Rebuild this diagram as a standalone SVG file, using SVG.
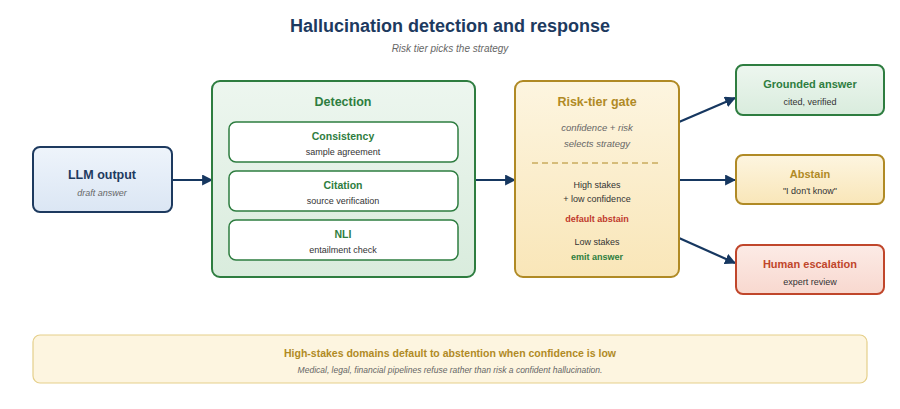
<svg xmlns="http://www.w3.org/2000/svg" width="900" height="409" viewBox="0 0 900 409">
<defs>
<linearGradient id="gb" x1="0" y1="0" x2="0" y2="1"><stop offset="0" stop-color="#eef4fb"/><stop offset="1" stop-color="#dbe6f4"/></linearGradient>
<linearGradient id="gg" x1="0" y1="0" x2="0" y2="1"><stop offset="0" stop-color="#edf6ef"/><stop offset="1" stop-color="#d9ecdd"/></linearGradient>
<linearGradient id="gy" x1="0" y1="0" x2="0" y2="1"><stop offset="0" stop-color="#fdf5e0"/><stop offset="1" stop-color="#f9e6b8"/></linearGradient>
<linearGradient id="gr" x1="0" y1="0" x2="0" y2="1"><stop offset="0" stop-color="#fcebe6"/><stop offset="1" stop-color="#f8d8cf"/></linearGradient>
<marker id="ah" viewBox="0 0 10 10" refX="9" refY="5" markerWidth="5" markerHeight="5" orient="auto"><path d="M0,0 L10,5 L0,10 z" fill="#163760"/></marker>
<style>
text{font-family:"Liberation Sans",Arial,sans-serif;text-anchor:middle}
.t{font-weight:bold;font-size:12.5px}
.s{font-size:9px;fill:#333}
.i{font-size:9px;fill:#666;font-style:italic}
.c{stroke:#163760;stroke-width:2.2;fill:none;marker-end:url(#ah)}
</style>
</defs>
<rect width="900" height="409" fill="#fff"/>
<text x="450" y="32" style="font-size:18px;font-weight:bold;fill:#1d3a5f">Hallucination detection and response</text>
<text x="450" y="52" class="i" style="font-size:10px">Risk tier picks the strategy</text>
<g id="connectors">
<line class="c" x1="172" y1="180" x2="212" y2="180"/>
<line class="c" x1="475" y1="180" x2="515" y2="180"/>
<line class="c" x1="679" y1="122" x2="735" y2="98"/>
<line class="c" x1="679" y1="180" x2="735" y2="180"/>
<line class="c" x1="679" y1="238" x2="735" y2="263"/>
</g>
<g id="llm"><rect x="33" y="147" width="139" height="65" rx="7" fill="url(#gb)" stroke="#1d3a5f" stroke-width="2"/>
<text x="102" y="179" class="t" style="fill:#1d3a5f">LLM output</text><text x="102" y="196" class="i">draft answer</text></g>
<g id="detection"><rect x="212" y="81" width="263" height="196" rx="8" fill="url(#gg)" stroke="#2e7d40" stroke-width="2"/>
<text x="343" y="106" class="t" style="fill:#2e7d40">Detection</text></g>
<g id="consistency"><rect x="229" y="122" width="229" height="40" rx="7" fill="#fff" stroke="#2e7d40" stroke-width="1.5"/>
<text x="343" y="140" class="t" style="fill:#2e7d40;font-size:10.5px">Consistency</text><text x="343" y="155" class="s">sample agreement</text></g>
<g id="citation"><rect x="229" y="171" width="229" height="40" rx="7" fill="#fff" stroke="#2e7d40" stroke-width="1.5"/>
<text x="343" y="189" class="t" style="fill:#2e7d40;font-size:10.5px">Citation</text><text x="343" y="204" class="s">source verification</text></g>
<g id="nli"><rect x="229" y="220" width="229" height="40" rx="7" fill="#fff" stroke="#2e7d40" stroke-width="1.5"/>
<text x="343" y="238" class="t" style="fill:#2e7d40;font-size:10.5px">NLI</text><text x="343" y="253" class="s">entailment check</text></g>
<g id="risk"><rect x="515" y="81" width="164" height="196" rx="8" fill="url(#gy)" stroke="#b08a25" stroke-width="2"/>
<text x="597" y="106" class="t" style="fill:#b08a25">Risk-tier gate</text>
<text x="597" y="131" class="i" style="font-size:9.5px">confidence + risk</text><text x="597" y="147" class="i" style="font-size:9.5px">selects strategy</text>
<line x1="532" y1="163" x2="661" y2="163" stroke="#b08a25" stroke-dasharray="6,4"/>
<text x="597" y="188" class="s">High stakes</text><text x="597" y="202" class="s">+ low confidence</text>
<text x="597" y="222" class="s" style="fill:#c0392b;font-weight:bold">default abstain</text>
<text x="597" y="245" class="s">Low stakes</text>
<text x="597" y="260" class="s" style="fill:#2e7d40;font-weight:bold">emit answer</text></g>
<g id="grounded"><rect x="736" y="65" width="148" height="50" rx="7" fill="url(#gg)" stroke="#2e7d40" stroke-width="2"/>
<text x="810" y="88" class="t" style="fill:#2e7d40;font-size:11px">Grounded answer</text><text x="810" y="105" class="s">cited, verified</text></g>
<g id="abstain"><rect x="736" y="155" width="148" height="49" rx="7" fill="url(#gy)" stroke="#b08a25" stroke-width="2"/>
<text x="810" y="178" class="t" style="fill:#b08a25;font-size:11px">Abstain</text><text x="810" y="194" class="s">"I don't know"</text></g>
<g id="human"><rect x="736" y="245" width="148" height="49" rx="7" fill="url(#gr)" stroke="#c0462b" stroke-width="2"/>
<text x="810" y="268" class="t" style="fill:#c0462b;font-size:11px">Human escalation</text><text x="810" y="285" class="s">expert review</text></g>
<g id="footer"><rect x="33" y="335" width="834" height="48" rx="7" fill="#fdf5e0" stroke="#e5cf8a" stroke-width="1.2"/>
<text x="450" y="357" class="t" style="fill:#b08a25;font-size:10.5px">High-stakes domains default to abstention when confidence is low</text>
<text x="450" y="373" class="i" style="font-size:8.5px">Medical, legal, financial pipelines refuse rather than risk a confident hallucination.</text></g>
</svg>
